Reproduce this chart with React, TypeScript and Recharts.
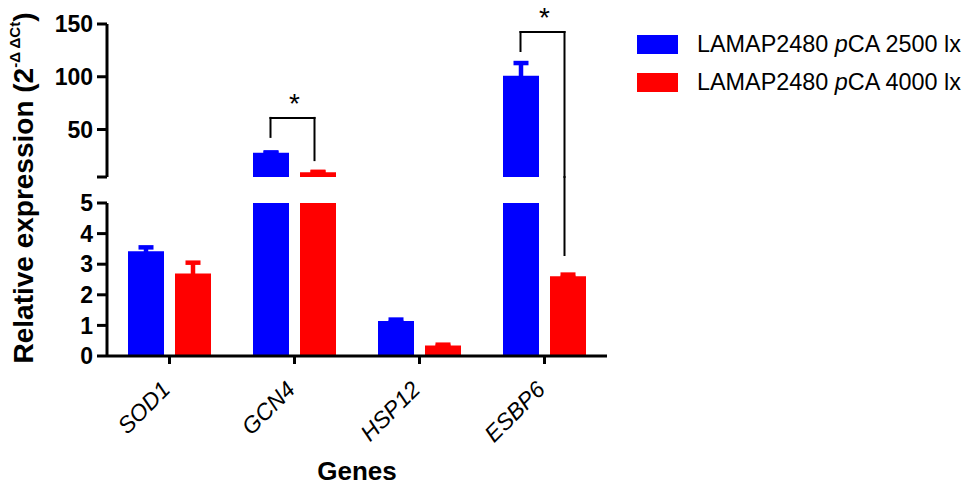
import React from 'react';
import { BarChart, Bar, XAxis, YAxis, ErrorBar, ReferenceLine, Legend } from 'recharts';

// ---- data ----
const genes = ['SOD1', 'GCN4', 'HSP12', 'ESBP6'];
const lux2500 = [3.42, 28, 1.14, 101];
const lux2500Err = [0.13, 0.3, 0.05, 12];
const lux4000 = [2.7, 9.6, 0.34, 2.61];
const lux4000Err = [0.35, 0.3, 0.03, 0.05];
const topTicks = [5, 50, 100, 150];
const bottomTicks = [0, 1, 2, 3, 4, 5];
const breakValue = 5;
const topMax = 150;
const seriesLabels = [
  { pre: 'LAMAP2480 ', it: 'p', post: 'CA 2500 lx' },
  { pre: 'LAMAP2480 ', it: 'p', post: 'CA 4000 lx' },
];
// significance brackets (values in y units of their segment)
const brackets = [
  { gene: 'GCN4', top: 61, leftEnd: 43, rightEnd: 21, lowerFrom: null as number | null, lowerTo: null as number | null, label: '*' },
  { gene: 'ESBP6', top: 142.4, leftEnd: 124.4, rightEnd: breakValue, lowerFrom: 5.85, lowerTo: 3.3, label: '*' },
];

// ---- styles ----
const BLUE = '#0000FF';
const RED = '#FF0000';
const FONT = '"Liberation Sans", Arial, Helvetica, sans-serif';
const BAR_SIZE = 36;
const BAR_GAP = 11;
const LEFT_DX = -(BAR_SIZE + BAR_GAP) / 2 - 0.5;
const RIGHT_DX = (BAR_SIZE + BAR_GAP) / 2 - 3.5;

const topData = genes.map((g, i) => ({
  gene: g,
  a: lux2500[i] > breakValue ? lux2500[i] : null,
  aErr: lux2500[i] > breakValue ? lux2500Err[i] : null,
  b: lux4000[i] > breakValue ? lux4000[i] : null,
  bErr: lux4000[i] > breakValue ? lux4000Err[i] : null,
}));
const bottomData = genes.map((g, i) => ({
  gene: g,
  a: lux2500[i],
  aErr: lux2500[i] <= breakValue ? lux2500Err[i] : null,
  b: lux4000[i],
  bErr: lux4000[i] <= breakValue ? lux4000Err[i] : null,
}));

const tickStyle = { fontSize: 23, fontWeight: 700, fill: '#000', fontFamily: FONT };

const GeneTick = (props: any) => {
  const { x, y, payload } = props;
  return (
    <g transform={`translate(${x + 2},${y + 25})`}>
      <text transform="rotate(-45)" textAnchor="end" fontSize={23} fontStyle="italic" fill="#000" fontFamily={FONT}>
        {payload.value}
      </text>
    </g>
  );
};

const YTitle = () => (
  <text
    transform="translate(33,188) rotate(-90)"
    textAnchor="middle"
    fontSize={28}
    fontWeight={700}
    fill="#000"
    fontFamily={FONT}
  >
    Relative expression (2
    <tspan fontSize={15} dy={-13}>-Δ ΔCt</tspan>
    <tspan dy={13}>)</tspan>
  </text>
);

const LegendContent = () => (
  <div style={{ fontFamily: FONT, fontSize: 23.4, color: '#000' }}>
    {seriesLabels.map((s, i) => (
      <div key={i} style={{ display: 'flex', alignItems: 'center', height: 38 }}>
        <div style={{ width: 41, height: 19, background: i === 0 ? BLUE : RED, marginRight: 19 }} />
        <span style={{ whiteSpace: 'nowrap' }}>
          {s.pre}
          <i>{s.it}</i>
          {s.post}
        </span>
      </div>
    ))}
  </div>
);

const axisStroke = { stroke: '#000', strokeWidth: 3 };

// draws a bracket line shifted horizontally from the category centre
const bracketShape = (dx1: number, dx2: number) => (p: any) => (
  <line
    x1={p.x1 + dx1}
    y1={p.y1}
    x2={p.x2 + dx2}
    y2={p.y2}
    stroke="#000"
    strokeWidth={2}
    strokeLinecap="square"
  />
);

export default function App() {
  return (
    <div style={{ position: 'relative', width: 969, height: 491, background: '#fff', fontFamily: FONT }}>
      <style>{'body{margin:0}'}</style>
      <div style={{ position: 'absolute', left: 0, top: 0 }}>
        <BarChart
          width={969}
          height={200}
          data={topData}
          margin={{ top: 24, right: 362, bottom: 23, left: 0 }}
          barSize={BAR_SIZE}
          barGap={BAR_GAP}
        >
          <XAxis dataKey="gene" hide />
          <YAxis
            domain={[breakValue, topMax]}
            ticks={topTicks}
            interval={0}
            allowDataOverflow
            width={107}
            tickSize={10}
            tickMargin={4}
            tickFormatter={(v: number) => (v === breakValue ? '' : String(v))}
            tick={tickStyle}
            axisLine={axisStroke}
            tickLine={axisStroke}
          />
          <Bar dataKey="a" fill={BLUE} isAnimationActive={false}>
            <ErrorBar dataKey="aErr" direction="y" width={7.5} strokeWidth={4.5} stroke={BLUE} isAnimationActive={false} />
          </Bar>
          <Bar dataKey="b" fill={RED} isAnimationActive={false}>
            <ErrorBar dataKey="bErr" direction="y" width={7.5} strokeWidth={4.5} stroke={RED} isAnimationActive={false} />
          </Bar>
          {brackets.map((b, i) => (
            <ReferenceLine
              key={`h${i}`}
              ifOverflow="visible"
              segment={[
                { x: b.gene, y: b.top },
                { x: b.gene, y: b.top },
              ]}
              stroke="#000"
              shape={bracketShape(LEFT_DX, RIGHT_DX)}
              label={{ value: b.label, position: 'top', offset: 5, fontSize: 28, fill: '#000', fontFamily: FONT }}
            />
          ))}
          {brackets.map((b, i) => (
            <ReferenceLine
              key={`l${i}`}
              ifOverflow="visible"
              segment={[
                { x: b.gene, y: b.top },
                { x: b.gene, y: b.leftEnd },
              ]}
              stroke="#000"
              shape={bracketShape(LEFT_DX, LEFT_DX)}
            />
          ))}
          {brackets.map((b, i) => (
            <ReferenceLine
              key={`r${i}`}
              ifOverflow="visible"
              segment={[
                { x: b.gene, y: b.top },
                { x: b.gene, y: b.rightEnd },
              ]}
              stroke="#000"
              shape={bracketShape(RIGHT_DX, RIGHT_DX)}
            />
          ))}
          <Legend
            layout="vertical"
            align="center"
            verticalAlign="middle"
            wrapperStyle={{ left: 637, top: 25, width: 330, height: 'auto' }}
            content={() => <LegendContent />}
          />
        </BarChart>
      </div>
      <div style={{ position: 'absolute', left: 0, top: 0 }}>
        <BarChart
          width={969}
          height={491}
          data={bottomData}
          margin={{ top: 203, right: 362, bottom: 35, left: 0 }}
          barSize={BAR_SIZE}
          barGap={BAR_GAP}
        >
          <XAxis
            dataKey="gene"
            height={100}
            tickSize={8}
            tickMargin={2}
            tick={<GeneTick />}
            axisLine={axisStroke}
            tickLine={axisStroke}
            interval={0}
            label={{ value: 'Genes', position: 'bottom', offset: 6, fontSize: 26, fontWeight: 700, fill: '#000', fontFamily: FONT }}
          />
          <YAxis
            domain={[0, breakValue]}
            ticks={bottomTicks}
            interval={0}
            allowDataOverflow
            width={107}
            tickSize={10}
            tickMargin={4}
            tick={tickStyle}
            axisLine={axisStroke}
            tickLine={axisStroke}
            label={{ content: () => <YTitle /> }}
          />
          <Bar dataKey="a" fill={BLUE} isAnimationActive={false}>
            <ErrorBar dataKey="aErr" direction="y" width={7.5} strokeWidth={4.5} stroke={BLUE} isAnimationActive={false} />
          </Bar>
          <Bar dataKey="b" fill={RED} isAnimationActive={false}>
            <ErrorBar dataKey="bErr" direction="y" width={7.5} strokeWidth={4.5} stroke={RED} isAnimationActive={false} />
          </Bar>
          {brackets
            .filter((b) => b.lowerFrom != null)
            .map((b, i) => (
              <ReferenceLine
                key={`lr${i}`}
                ifOverflow="visible"
                segment={[
                  { x: b.gene, y: b.lowerFrom as number },
                  { x: b.gene, y: b.lowerTo as number },
                ]}
                stroke="#000"
                shape={bracketShape(RIGHT_DX, RIGHT_DX)}
              />
            ))}
        </BarChart>
      </div>
    </div>
  );
}
